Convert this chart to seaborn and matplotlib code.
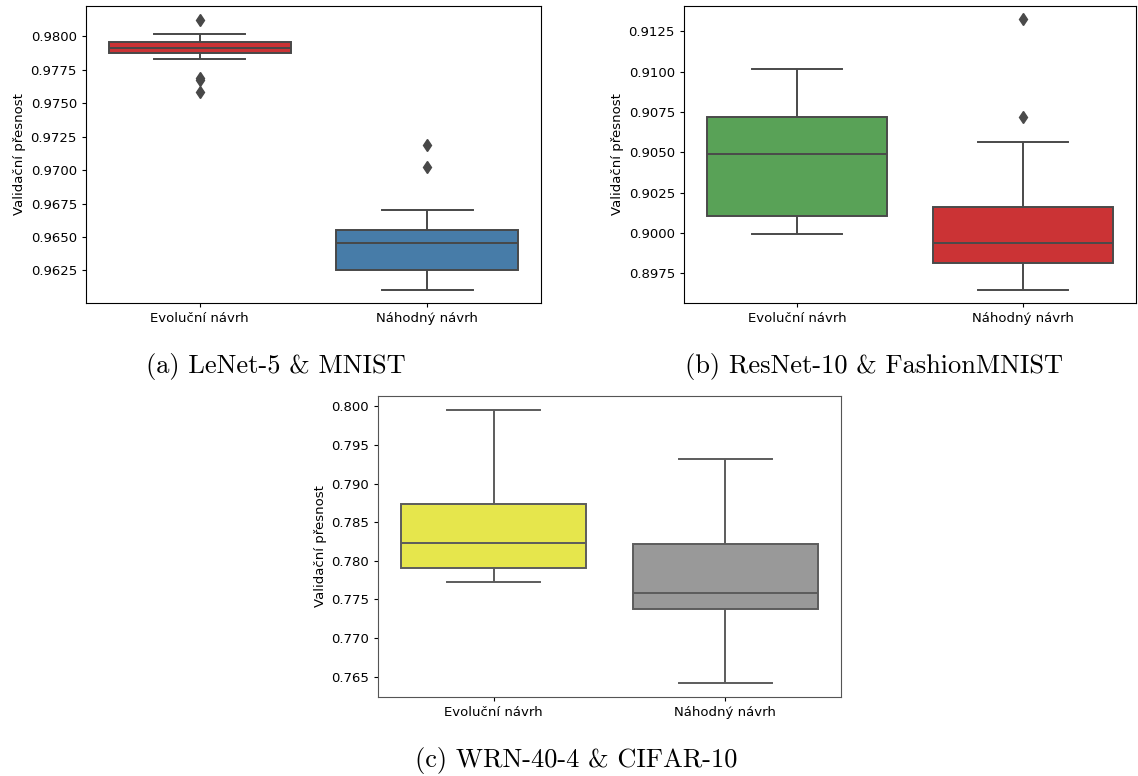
"""Box plots of validation accuracy: evolutionary vs random design."""
import numpy as np
import pandas as pd
import matplotlib
matplotlib.use("Agg")
import matplotlib.pyplot as plt
import seaborn as sns

# --- data ---
categories = ["Evoluční návrh", "Náhodný návrh"]

lenet_evo = [0.97585, 0.97673, 0.97686, 0.97830, 0.97875, 0.97885, 0.97895, 0.97905,
             0.97910, 0.97925, 0.97940, 0.97950, 0.97960, 0.97975, 0.97990, 0.98013, 0.98125]
lenet_rand = [0.96108, 0.96180, 0.96230, 0.96255, 0.96330, 0.96410, 0.96458,
              0.96490, 0.96520, 0.96550, 0.96700, 0.97020, 0.97188]

resnet_evo = [0.89990, 0.90050, 0.90102, 0.90300, 0.90488, 0.90600, 0.90717, 0.90850, 0.91017]
resnet_rand = [0.89649, 0.89720, 0.89780, 0.89812, 0.89870, 0.89910, 0.89940,
               0.90000, 0.90100, 0.90158, 0.90562, 0.90721, 0.91323]

wrn_evo = [0.77724, 0.77850, 0.77913, 0.78100, 0.78237, 0.78500, 0.78735, 0.79100, 0.79957]
wrn_rand = [0.76414, 0.77200, 0.77378, 0.77500, 0.77581, 0.77900, 0.78224, 0.78700, 0.79322]

captions = ["(a) LeNet-5 & MNIST", "(b) ResNet-10 & FashionMNIST", "(c) WRN-40-4 & CIFAR-10"]

# Set1 colours used per panel
palettes = [["#e41a1c", "#377eb8"], ["#4daf4a", "#e41a1c"], ["#ffff33", "#999999"]]
line_colors = ["#484848", "#4a4a4a", "#5c5c5c"]


def make_frame(evo, rand):
    return pd.DataFrame({
        "navrh": [categories[0]] * len(evo) + [categories[1]] * len(rand),
        "presnost": evo + rand,
    })


frames = [make_frame(lenet_evo, lenet_rand),
          make_frame(resnet_evo, resnet_rand),
          make_frame(wrn_evo, wrn_rand)]

W, H = 1138, 776
fig = plt.figure(figsize=(W / 100, H / 100), dpi=100)

# axes boxes in pixels: left, top, right, bottom
boxes = [(86, 6, 541, 303), (684, 6, 1136, 303), (378, 396, 841, 697)]
caption_pos = [(276, 366), (874, 366), (576, 760)]

for i, (df, box) in enumerate(zip(frames, boxes)):
    l, t, r, b = box
    ax = fig.add_axes([l / W, 1 - b / H, (r - l) / W, (b - t) / H])
    lc = line_colors[i]
    sns.boxplot(
        data=df, x="navrh", y="presnost", hue="navrh", legend=False,
        palette=palettes[i], saturation=0.75, width=0.8, linewidth=1.4,
        linecolor=lc,
        flierprops=dict(marker="d", markerfacecolor=lc, markeredgecolor=lc, markersize=6),
        ax=ax,
    )
    ax.set_xlabel("")
    ax.set_ylabel("Validační přesnost", fontsize=9.5, labelpad=3)
    ax.tick_params(labelsize=9.5, length=3, width=0.8)
    if i == 2:
        for sp in ax.spines.values():
            sp.set_color("#555555")
    cx, cy = caption_pos[i]
    fig.text(cx / W, 1 - cy / H, captions[i], ha="center", va="center",
             fontsize=19, family="cmr10")

# tick formatting: 4 decimals for (a),(b), 3 for (c)
axes = fig.axes
for ax, fmt in zip(axes, ["%.4f", "%.4f", "%.3f"]):
    ax.yaxis.set_major_formatter(matplotlib.ticker.FormatStrFormatter(fmt))

fig.savefig("out.png", dpi=100)
